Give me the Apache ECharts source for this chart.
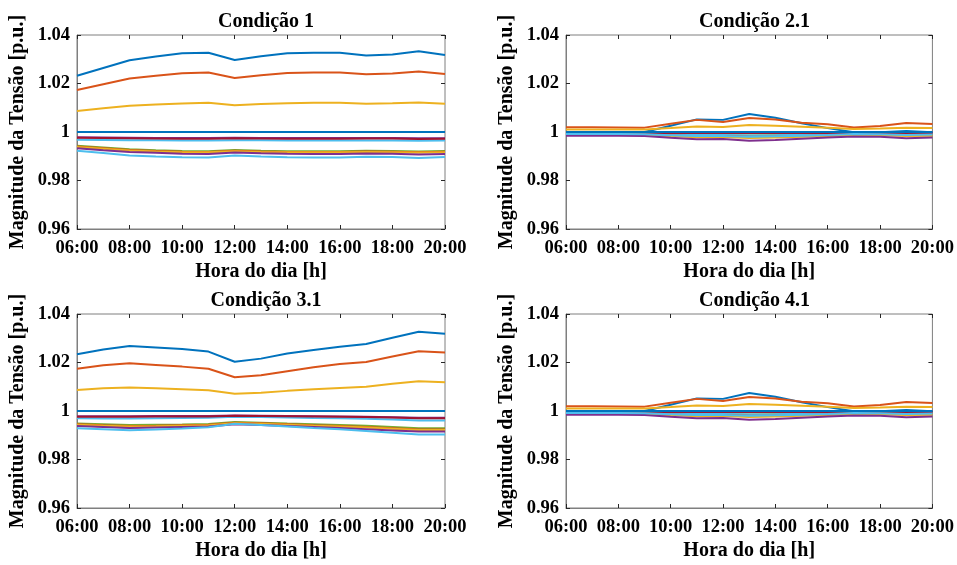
<!DOCTYPE html>
<html>
<head>
<meta charset="utf-8">
<script src="https://cdn.jsdelivr.net/npm/echarts@6/dist/echarts.min.js"></script>
<style>
  html, body { margin: 0; padding: 0; background: #fff; }
  #chart { width: 957px; height: 565px; }
</style>
</head>
<body>
<div id="chart"></div>
<script>
// horas do dia (06:00 .. 20:00)
var horas = [6, 7, 8, 9, 10, 11, 12, 13, 14, 15, 16, 17, 18, 19, 20];
var xTicks = [6, 8, 10, 12, 14, 16, 18, 20];
var yTicks = [0.96, 0.98, 1, 1.02, 1.04];
var titulos = ['Condição 1', 'Condição 2.1', 'Condição 3.1', 'Condição 4.1'];

// Condição 1
var c1_b1 = [1.0232, 1.0264, 1.0296, 1.0311, 1.0325, 1.0327, 1.0297, 1.0312, 1.0325, 1.0327, 1.0327, 1.0315, 1.0320, 1.0333, 1.0318];
var c1_b2 = [1.0173, 1.0197, 1.0221, 1.0232, 1.0242, 1.0245, 1.0223, 1.0234, 1.0243, 1.0245, 1.0245, 1.0238, 1.0241, 1.0249, 1.0239];
var c1_b3 = [1.0087, 1.0098, 1.0108, 1.0113, 1.0118, 1.0121, 1.0110, 1.0115, 1.0119, 1.0121, 1.0121, 1.0117, 1.0119, 1.0122, 1.0117];
var c1_b4 = [0.9978, 0.9977, 0.9976, 0.9975, 0.9975, 0.9975, 0.9976, 0.9975, 0.9975, 0.9975, 0.9975, 0.9975, 0.9975, 0.9974, 0.9974];
var c1_b5 = [0.9943, 0.9936, 0.9929, 0.9925, 0.9922, 0.9921, 0.9926, 0.9923, 0.9921, 0.9921, 0.9921, 0.9923, 0.9922, 0.9920, 0.9922];
var c1_b6 = [0.9968, 0.9967, 0.9966, 0.9966, 0.9965, 0.9965, 0.9966, 0.9966, 0.9965, 0.9965, 0.9965, 0.9965, 0.9965, 0.9964, 0.9965];
var c1_b7 = [0.9976, 0.9975, 0.9974, 0.9973, 0.9972, 0.9972, 0.9974, 0.9973, 0.9972, 0.9972, 0.9972, 0.9973, 0.9973, 0.9971, 0.9972];
var c1_b8 = [1.0000, 1.0000, 1.0000, 1.0000, 1.0000, 1.0000, 1.0000, 1.0000, 1.0000, 1.0000, 1.0000, 1.0000, 1.0000, 1.0000, 1.0000];
var c1_b9 = [0.9940, 0.9933, 0.9926, 0.9922, 0.9919, 0.9918, 0.9923, 0.9920, 0.9918, 0.9918, 0.9918, 0.9920, 0.9919, 0.9917, 0.9919];
var c1_b10 = [0.9938, 0.9931, 0.9924, 0.9920, 0.9917, 0.9916, 0.9921, 0.9918, 0.9916, 0.9916, 0.9916, 0.9918, 0.9917, 0.9915, 0.9917];
var c1_b11 = [0.9933, 0.9925, 0.9918, 0.9914, 0.9910, 0.9909, 0.9915, 0.9912, 0.9910, 0.9909, 0.9909, 0.9911, 0.9910, 0.9907, 0.9909];
var c1_b12 = [0.9923, 0.9913, 0.9903, 0.9899, 0.9896, 0.9895, 0.9903, 0.9899, 0.9896, 0.9895, 0.9895, 0.9898, 0.9897, 0.9893, 0.9897];

// Condição 2.1 (a Condição 4.1 tem o mesmo perfil)
var c2_b1 = [0.9999, 0.9999, 0.9999, 1.0000, 1.0026, 1.0052, 1.0050, 1.0074, 1.0059, 1.0036, 1.0016, 0.9999, 0.9999, 1.0004, 0.9999];
var c2_b2 = [1.0020, 1.0020, 1.0019, 1.0018, 1.0034, 1.0050, 1.0041, 1.0058, 1.0052, 1.0038, 1.0032, 1.0019, 1.0025, 1.0037, 1.0033];
var c2_b3 = [1.0010, 1.0010, 1.0010, 1.0010, 1.0016, 1.0023, 1.0021, 1.0029, 1.0026, 1.0022, 1.0018, 1.0012, 1.0014, 1.0018, 1.0016];
var c2_b4 = [0.9998, 0.9998, 0.9998, 0.9998, 0.9998, 0.9998, 0.9998, 0.9998, 0.9998, 0.9998, 0.9998, 0.9998, 0.9998, 0.9998, 0.9998];
var c2_b5 = [0.9992, 0.9992, 0.9992, 0.9991, 0.9989, 0.9987, 0.9987, 0.9986, 0.9987, 0.9988, 0.9989, 0.9991, 0.9991, 0.9990, 0.9991];
var c2_b6 = [0.9994, 0.9994, 0.9994, 0.9993, 0.9990, 0.9988, 0.9988, 0.9986, 0.9987, 0.9989, 0.9991, 0.9994, 0.9994, 0.9992, 0.9993];
var c2_b7 = [0.9996, 0.9996, 0.9996, 0.9996, 0.9996, 0.9996, 0.9996, 0.9996, 0.9996, 0.9996, 0.9996, 0.9996, 0.9996, 0.9996, 0.9996];
var c2_b8 = [1.0000, 1.0000, 1.0000, 1.0000, 1.0000, 1.0000, 1.0000, 1.0000, 1.0000, 1.0000, 1.0000, 1.0000, 1.0000, 1.0000, 1.0000];
var c2_b9 = [0.9991, 0.9991, 0.9991, 0.9990, 0.9986, 0.9982, 0.9983, 0.9980, 0.9981, 0.9984, 0.9986, 0.9990, 0.9989, 0.9987, 0.9988];
var c2_b10 = [0.9990, 0.9990, 0.9990, 0.9988, 0.9983, 0.9978, 0.9979, 0.9975, 0.9977, 0.9980, 0.9983, 0.9988, 0.9987, 0.9984, 0.9985];
var c2_b11 = [0.9985, 0.9985, 0.9985, 0.9983, 0.9976, 0.9970, 0.9971, 0.9964, 0.9967, 0.9972, 0.9977, 0.9981, 0.9980, 0.9974, 0.9977];
var c2_b12 = [0.9992, 0.9992, 0.9992, 0.9991, 0.9987, 0.9983, 0.9984, 0.9980, 0.9982, 0.9985, 0.9988, 0.9992, 0.9991, 0.9988, 0.9990];

// Condição 3.1
var c3_b1 = [1.0234, 1.0254, 1.0268, 1.0262, 1.0256, 1.0245, 1.0203, 1.0216, 1.0237, 1.0252, 1.0265, 1.0276, 1.0302, 1.0327, 1.0319];
var c3_b2 = [1.0174, 1.0189, 1.0197, 1.0190, 1.0183, 1.0174, 1.0139, 1.0147, 1.0164, 1.0180, 1.0194, 1.0202, 1.0225, 1.0246, 1.0241];
var c3_b3 = [1.0087, 1.0094, 1.0097, 1.0094, 1.0090, 1.0086, 1.0071, 1.0075, 1.0083, 1.0090, 1.0095, 1.0100, 1.0112, 1.0123, 1.0119];
var c3_b4 = [0.9978, 0.9978, 0.9978, 0.9979, 0.9979, 0.9979, 0.9981, 0.9980, 0.9979, 0.9978, 0.9977, 0.9976, 0.9974, 0.9972, 0.9972];
var c3_b5 = [0.9948, 0.9945, 0.9942, 0.9943, 0.9944, 0.9946, 0.9955, 0.9952, 0.9948, 0.9945, 0.9942, 0.9939, 0.9934, 0.9929, 0.9929];
var c3_b6 = [0.9970, 0.9969, 0.9969, 0.9970, 0.9971, 0.9972, 0.9976, 0.9975, 0.9973, 0.9971, 0.9970, 0.9968, 0.9965, 0.9961, 0.9961];
var c3_b7 = [0.9976, 0.9976, 0.9976, 0.9977, 0.9977, 0.9977, 0.9980, 0.9979, 0.9978, 0.9977, 0.9976, 0.9975, 0.9973, 0.9970, 0.9970];
var c3_b8 = [1.0000, 1.0000, 1.0000, 1.0000, 1.0000, 1.0000, 1.0000, 1.0000, 1.0000, 1.0000, 1.0000, 1.0000, 1.0000, 1.0000, 1.0000];
var c3_b9 = [0.9945, 0.9941, 0.9938, 0.9939, 0.9941, 0.9943, 0.9952, 0.9949, 0.9945, 0.9941, 0.9938, 0.9934, 0.9929, 0.9924, 0.9924];
var c3_b10 = [0.9943, 0.9939, 0.9936, 0.9937, 0.9939, 0.9941, 0.9950, 0.9947, 0.9943, 0.9939, 0.9936, 0.9932, 0.9927, 0.9922, 0.9922];
var c3_b11 = [0.9938, 0.9934, 0.9930, 0.9932, 0.9934, 0.9936, 0.9945, 0.9942, 0.9938, 0.9934, 0.9930, 0.9925, 0.9920, 0.9915, 0.9915];
var c3_b12 = [0.9929, 0.9925, 0.9921, 0.9924, 0.9928, 0.9933, 0.9947, 0.9942, 0.9936, 0.9930, 0.9925, 0.9918, 0.9910, 0.9903, 0.9903];

var cores = ['#0072BD', '#D95319', '#EDB120', '#7E2F8E', '#77AC30', '#4DBEEE',
             '#A2142F', '#0072BD', '#D95319', '#EDB120', '#7E2F8E', '#4DBEEE'];

var condicoes = [
  [c1_b1, c1_b2, c1_b3, c1_b4, c1_b5, c1_b6, c1_b7, c1_b8, c1_b9, c1_b10, c1_b11, c1_b12],
  [c2_b1, c2_b2, c2_b3, c2_b4, c2_b5, c2_b6, c2_b7, c2_b8, c2_b9, c2_b10, c2_b11, c2_b12],
  [c3_b1, c3_b2, c3_b3, c3_b4, c3_b5, c3_b6, c3_b7, c3_b8, c3_b9, c3_b10, c3_b11, c3_b12],
  [c2_b1, c2_b2, c2_b3, c2_b4, c2_b5, c2_b6, c2_b7, c2_b8, c2_b9, c2_b10, c2_b11, c2_b12]
];

var fonte = '"Liberation Serif", "DejaVu Serif", serif';
var corEixo = '#262626';
var grids = [
  { left: 77, top: 35, width: 368, height: 194 },
  { left: 566, top: 35, width: 367, height: 194 },
  { left: 77, top: 314, width: 368, height: 194 },
  { left: 566, top: 314, width: 367, height: 194 }
];

function fmtHora(v) {
  var h = Math.round(v);
  return (h < 10 ? '0' : '') + h + ':00';
}

var option = {
  animation: false,
  backgroundColor: '#fff',
  title: [],
  grid: [],
  xAxis: [],
  yAxis: [],
  series: []
};

grids.forEach(function (g, i) {
  option.grid.push({ left: g.left, top: g.top, width: g.width, height: g.height,
    show: true, borderColor: '#7f7f7f', borderWidth: 1, backgroundColor: '#fff' });
  option.title.push({
    text: titulos[i], left: g.left + g.width / 2, top: g.top - 28, textAlign: 'center',
    textStyle: { fontFamily: fonte, fontWeight: 'bold', fontSize: 20, color: '#000' }
  });
  // eixo x inferior
  option.xAxis.push({
    type: 'value', gridIndex: i, min: 6, max: 20, interval: 2,
    name: 'Hora do dia [h]', nameLocation: 'middle', nameGap: 33,
    nameTextStyle: { fontFamily: fonte, fontWeight: 'bold', fontSize: 20, color: '#000' },
    axisLine: { show: true, lineStyle: { color: '#7f7f7f' } },
    axisTick: { show: true, inside: true, length: 4, lineStyle: { color: corEixo } },
    axisLabel: { formatter: fmtHora, margin: 10, fontFamily: fonte, fontWeight: 'bold', fontSize: 18.5, color: '#000' },
    splitLine: { show: false }
  });
  // eixo x superior (só marcas)
  option.xAxis.push({
    type: 'value', gridIndex: i, position: 'top', min: 6, max: 20, interval: 2,
    axisLine: { show: false },
    axisTick: { show: true, inside: true, length: 4, lineStyle: { color: corEixo } },
    axisLabel: { show: false }, splitLine: { show: false }
  });
  option.yAxis.push({
    type: 'value', gridIndex: i, min: 0.96, max: 1.04, interval: 0.02,
    name: 'Magnitude da Tensão [p.u.]', nameLocation: 'middle', nameGap: 49,
    nameTextStyle: { fontFamily: fonte, fontWeight: 'bold', fontSize: 20, color: '#000' },
    axisLine: { show: true, lineStyle: { color: '#7f7f7f' } },
    axisTick: { show: true, inside: true, length: 4, lineStyle: { color: corEixo } },
    axisLabel: { formatter: function (v) { return String(Number(v.toFixed(2))); },
      margin: 7, fontFamily: fonte, fontWeight: 'bold', fontSize: 18.5, color: '#000' },
    splitLine: { show: false }
  });
  option.yAxis.push({
    type: 'value', gridIndex: i, position: 'right', min: 0.96, max: 1.04, interval: 0.02,
    axisLine: { show: false },
    axisTick: { show: true, inside: true, length: 4, lineStyle: { color: corEixo } },
    axisLabel: { show: false }, splitLine: { show: false }
  });

  condicoes[i].forEach(function (linha, k) {
    option.series.push({
      type: 'line', xAxisIndex: i * 2, yAxisIndex: i * 2,
      data: horas.map(function (h, j) { return [h, linha[j]]; }),
      showSymbol: false, symbol: 'none',
      lineStyle: { width: 2, color: cores[k] },
      itemStyle: { color: cores[k] },
      z: 2 + k
    });
  });
});

var myChart = echarts.init(document.getElementById('chart'));
myChart.setOption(option);
window.addEventListener('resize', function () {
  myChart.resize();
});
</script>
</body>
</html>
